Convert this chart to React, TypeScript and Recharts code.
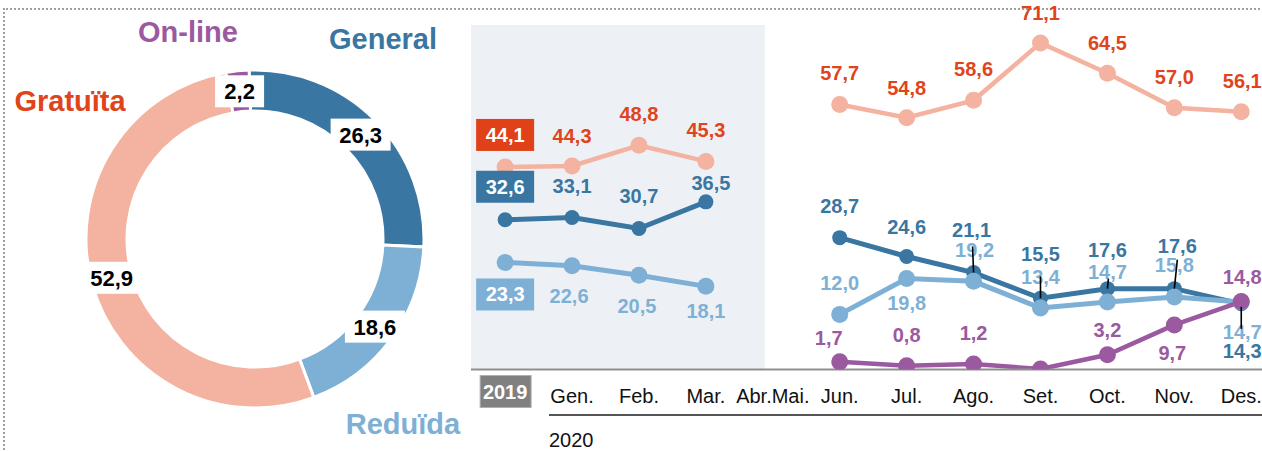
import {
  PieChart,
  Pie,
  Cell,
  LineChart,
  Line,
  XAxis,
  YAxis,
  ReferenceArea,
  LabelList,
} from 'recharts';

const FONT = '"Liberation Sans", Arial, Helvetica, sans-serif';

// Donut: share of each ticket type
const pieNames = ['General', 'Reduïda', 'Gratuïta', 'On-line'];
const pieValues = [26.3, 18.6, 52.9, 2.2];
const pieColors = ['#3a76a2', '#7eb0d5', '#f4b2a0', '#9b59a0'];
const pieNameColors = ['#3a76a2', '#7eb0d5', '#e0441c', '#9b59a0'];
// where each ticket type name sits, relative to the donut centre
const pieNameOffsets = [
  [128, -200],
  [148, 185],
  [-185, -138],
  [-67, -207],
];

// Monthly evolution
const months = ['2019', 'Gen.', 'Feb.', 'Mar.', 'Abr.Mai.', 'Jun.', 'Jul.', 'Ago.', 'Set.', 'Oct.', 'Nov.', 'Des.'];
const gratuita = [44.1, 44.3, 48.8, 45.3, null, 57.7, 54.8, 58.6, 71.1, 64.5, 57.0, 56.1];
const general = [32.6, 33.1, 30.7, 36.5, null, 28.7, 24.6, 21.1, 15.5, 17.6, 17.6, 14.3];
const reduida = [23.3, 22.6, 20.5, 18.1, null, 12.0, 19.8, 19.2, 13.4, 14.7, 15.8, 14.7];
const online = [null, null, null, null, null, 1.7, 0.8, 1.2, 0.1, 3.2, 9.7, 14.8];

// label placement (text centre relative to the point), null = no label
type Off = number[] | null;
const gratuitaLabelPos: Off[] = [[0, -32], [0, -30], [0, -31], [0, -31], null, [0, -31], [0, -30], [0, -31], [0, -30], [0, -30], [0, -31], [1, -31]];
const generalLabelPos: Off[] = [[0, -33], [0, -31], [0, -32], [5, -19], null, [0, -32], [0, -30], [-2, -43], [0, -44], [0, -39], [3, -43], [1, 47]];
const reduidaLabelPos: Off[] = [[0, 32], [-3, 30], [-2, 31], [0, 25], null, [0, -31], [0, 24], [1, -31], [0, -31], [0, -30], [0, -32], [1, 30]];
const onlineLabelPos: Off[] = [null, null, null, null, null, [-11, -24], [0, -31], [0, -31], null, [0, -25], [-2, 28], [1, -25]];
// black leader ticks for the crowded General labels: [dxTop, dyTop, dyBottom]
const generalLeaders: Record<number, number[]> = {
  7: [-1, -26, 0],
  8: [0, -22, 0],
  9: [1, -10, 0],
  10: [3, -29, 0],
  11: [0, 3, 25],
};

const pieData = pieNames.map((name, i) => ({ name, value: pieValues[i] }));

const lineData = months.map((m, i) => ({
  x: i,
  month: m,
  gratuita: gratuita[i],
  general: general[i],
  reduida: reduida[i],
  online: online[i],
}));

const fmt = (v: number) => v.toFixed(1).replace('.', ',');

const RADIAN = Math.PI / 180;

const renderPieLabel = (props: any) => {
  const { cx, cy, midAngle, innerRadius, outerRadius, index, value } = props;
  const r = (innerRadius + outerRadius) / 2;
  const x = cx + r * Math.cos(-midAngle * RADIAN);
  const y = cy + r * Math.sin(-midAngle * RADIAN);
  const txt = fmt(value);
  const w = 16 + txt.length * 11;
  const [nx, ny] = pieNameOffsets[index];
  return (
    <g>
      <rect x={x - w / 2} y={y - 16} width={w} height={32} fill="#fff" />
      <text x={x} y={y + 8} textAnchor="middle" fontSize={22} fontWeight="bold" fill="#000" fontFamily={FONT}>
        {txt}
      </text>
      <text
        x={cx + nx}
        y={cy + ny + 10}
        textAnchor="middle"
        fontSize={29}
        fontWeight="bold"
        fill={pieNameColors[index]}
        fontFamily={FONT}
      >
        {pieNames[index]}
      </text>
    </g>
  );
};

const makeLabel = (pos: Off[], color: string, boxColor: string) => (props: any) => {
  const { x, y, index, value } = props;
  const p = pos[index];
  if (!p || value == null || x == null || y == null) return null;
  const cx = x + p[0];
  const cy = y + p[1];
  const txt = fmt(Number(value));
  if (index === 0) {
    return (
      <g>
        <rect x={cx - 29} y={cy - 16} width={58} height={32} fill={boxColor} />
        <text x={cx} y={cy + 7} textAnchor="middle" fontSize={20} fontWeight="bold" fill="#fff" fontFamily={FONT}>
          {txt}
        </text>
      </g>
    );
  }
  return (
    <text x={cx} y={cy + 7} textAnchor="middle" fontSize={20} fontWeight="bold" fill={color} fontFamily={FONT}>
      {txt}
    </text>
  );
};

const renderLeader = (props: any) => {
  const { x, y, index } = props;
  const l = generalLeaders[index];
  if (!l || x == null || y == null) return null;
  return <line x1={x + l[0]} y1={y + l[1]} x2={x} y2={y + l[2]} stroke="#000" strokeWidth={1.6} />;
};

const MonthTick = (props: any) => {
  const { x, y, payload } = props;
  const label = months[payload.value];
  if (payload.value === 0) {
    return (
      <g>
        <rect x={x - 25} y={y + 6} width={51} height={32} fill="#808080" stroke="#b0b0b0" strokeWidth={1} />
        <text x={x} y={y + 29} textAnchor="middle" fontSize={20} fontWeight="bold" fill="#fff" fontFamily={FONT}>
          {label}
        </text>
      </g>
    );
  }
  return (
    <text x={x} y={y + 33} textAnchor="middle" fontSize={20} fill="#111" fontFamily={FONT}>
      {label}
    </text>
  );
};

export default function App() {
  const dotStyle = (c: string, r: number) => ({ r, fill: c, stroke: c, strokeWidth: 0 });

  return (
    <div
      style={{
        position: 'absolute',
        left: 0,
        top: 0,
        width: 1262,
        height: 451,
        overflow: 'hidden',
        background: '#fff',
        fontFamily: FONT,
      }}
    >
      {/* dotted frame */}
      <div
        style={{
          position: 'absolute',
          left: 3,
          top: 8,
          width: 1270,
          height: 460,
          borderTop: '2px dotted #a0a0a0',
          borderLeft: '2px dotted #a0a0a0',
        }}
      />

      <div style={{ position: 'absolute', left: 0, top: 0 }}>
        <PieChart width={470} height={451} margin={{ top: 0, right: 0, bottom: 0, left: 0 }}>
          <Pie
            data={pieData}
            dataKey="value"
            cx={255}
            cy={239}
            innerRadius={128}
            outerRadius={169}
            startAngle={92}
            endAngle={-268}
            stroke="#fff"
            strokeWidth={3}
            labelLine={false}
            label={renderPieLabel}
            isAnimationActive={false}
          >
            {pieData.map((d, i) => (
              <Cell key={d.name} fill={pieColors[i]} />
            ))}
          </Pie>
        </PieChart>
      </div>

      <div style={{ position: 'absolute', left: 471, top: 0 }}>
        <LineChart width={791} height={451} data={lineData} margin={{ top: 25, right: 0, bottom: 0, left: 0 }}>
          <ReferenceArea x1={-0.51} x2={3.88} y1={0} y2={75} fill="#edf1f5" fillOpacity={1} stroke="none" />
          <XAxis
            dataKey="x"
            type="number"
            domain={[-0.51, 11.31]}
            ticks={months.map((_, i) => i)}
            interval={0}
            allowDataOverflow
            tickLine={false}
            tickSize={0}
            tickMargin={0}
            axisLine={{ stroke: '#8f8f8f', strokeWidth: 2 }}
            height={81.5}
            tick={<MonthTick />}
          />
          <YAxis hide domain={[0, 75]} allowDataOverflow />
          <Line
            dataKey="gratuita"
            stroke="#f4b2a0"
            strokeWidth={4.5}
            dot={dotStyle('#f4b2a0', 8.5)}
            activeDot={false}
            isAnimationActive={false}
          >
            <LabelList dataKey="gratuita" content={makeLabel(gratuitaLabelPos, '#e0441c', '#e04119')} />
          </Line>
          <Line
            dataKey="general"
            stroke="#3a76a2"
            strokeWidth={5}
            dot={dotStyle('#3a76a2', 7.5)}
            activeDot={false}
            isAnimationActive={false}
          >
            <LabelList dataKey="general" content={makeLabel(generalLabelPos, '#3a76a2', '#3a76a2')} />
          </Line>
          <Line
            dataKey="reduida"
            stroke="#7eb0d5"
            strokeWidth={5}
            dot={dotStyle('#7eb0d5', 8.5)}
            activeDot={false}
            isAnimationActive={false}
          >
            <LabelList dataKey="reduida" content={makeLabel(reduidaLabelPos, '#7eb0d5', '#7eb0d5')} />
          </Line>
          <Line
            dataKey="online"
            stroke="#9b59a0"
            strokeWidth={4.5}
            dot={dotStyle('#9b59a0', 8.5)}
            activeDot={false}
            isAnimationActive={false}
          >
            <LabelList dataKey="online" content={makeLabel(onlineLabelPos, '#9b59a0', '#9b59a0')} />
          </Line>
          {/* leader ticks, drawn last so they sit on top of the dots */}
          <Line
            dataKey="general"
            stroke="none"
            dot={false}
            activeDot={false}
            legendType="none"
            isAnimationActive={false}
          >
            <LabelList dataKey="general" content={renderLeader} />
          </Line>
        </LineChart>
      </div>

      {/* year divider under the month ticks */}
      <div
        style={{
          position: 'absolute',
          left: 549,
          top: 414,
          width: 720,
          borderTop: '2px solid #555',
        }}
      />
      <div
        style={{
          position: 'absolute',
          left: 549,
          top: 429,
          fontSize: 20,
          lineHeight: '22px',
          color: '#111',
        }}
      >
        2020
      </div>
    </div>
  );
}
